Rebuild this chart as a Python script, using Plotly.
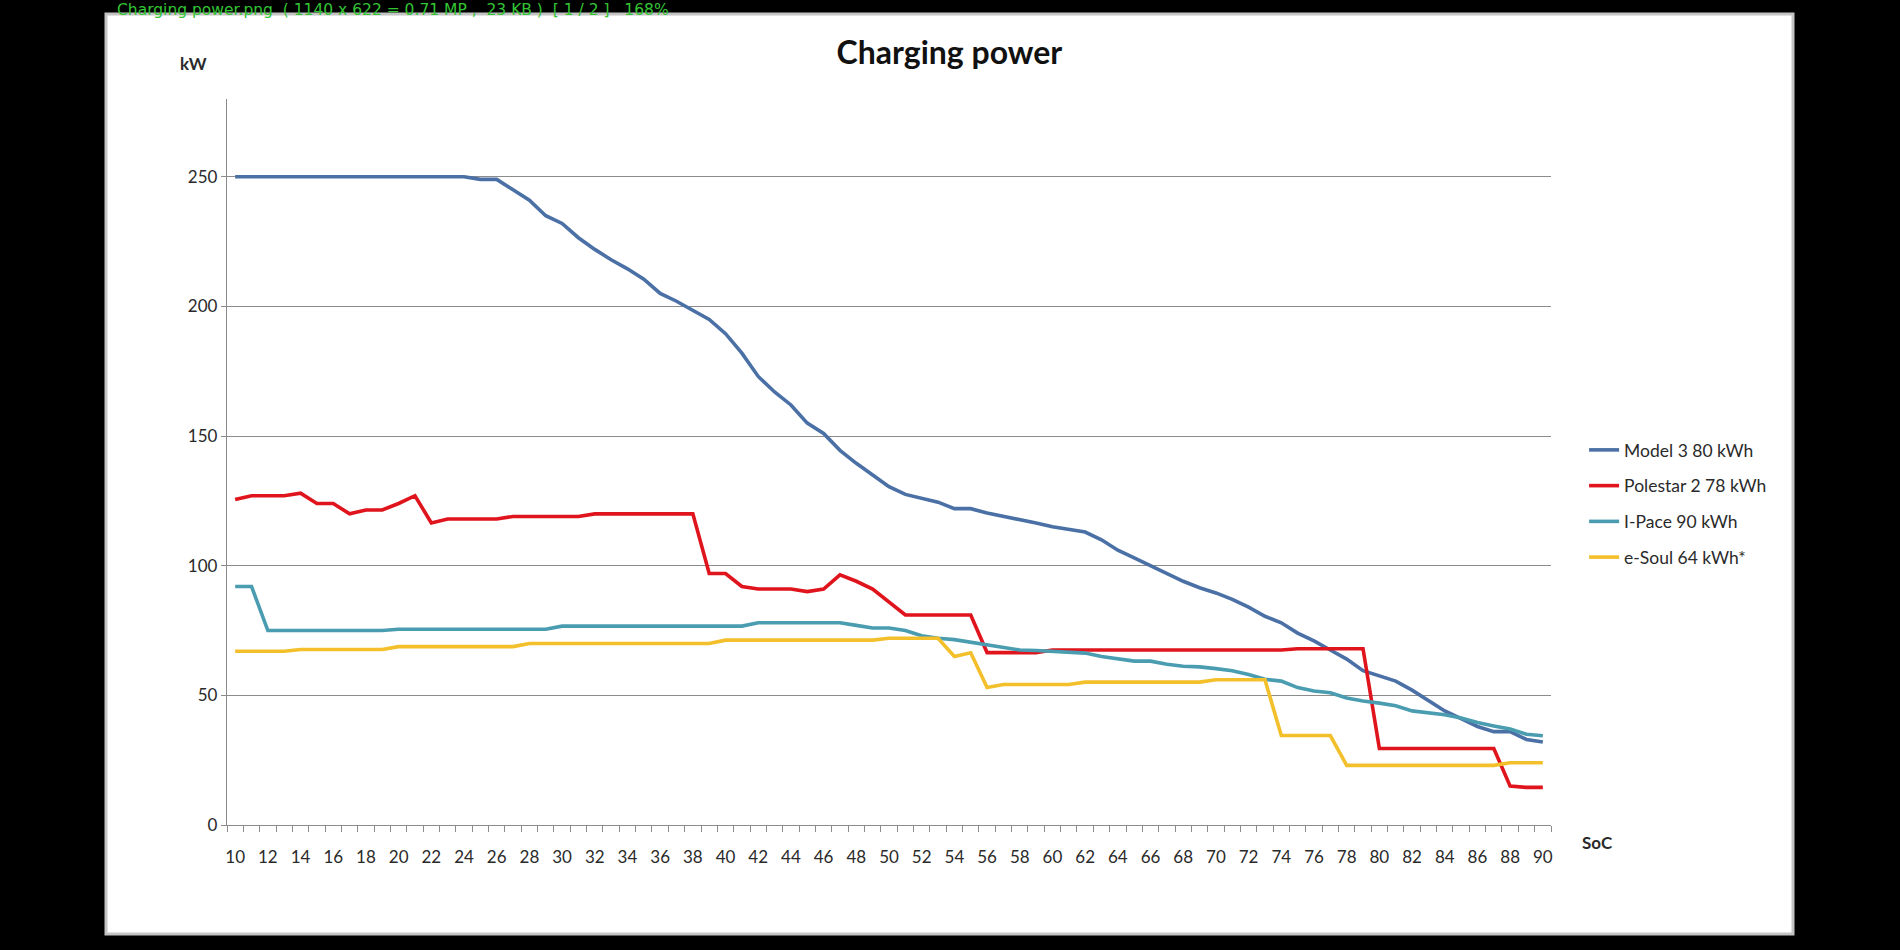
import plotly.graph_objects as go

SOC = list(range(10, 91))
TICK_LABELS = [str(v) for v in range(10, 91, 2)]

MODEL3 = [250, 250, 250, 250, 250, 250, 250, 250, 250, 250,
          250, 250, 250, 250, 250, 249, 249, 245, 241, 235,
          232, 226.5, 222, 218, 214.5, 210.5, 205, 202, 198.5, 195,
          189.5, 182, 173, 167, 162, 155, 151, 144.5, 139.5, 135,
          130.5, 127.5, 126, 124.5, 122, 122, 120.3, 119, 118, 116.5,
          115, 114, 113, 110, 106, 103, 100, 97, 94, 91.5,
          89.5, 87, 84, 80.5, 78, 74, 71, 67.5, 64, 59.5,
          57.5, 55.5, 52, 48, 44, 41, 38, 36, 36, 33, 32]

POLESTAR = [125.5, 127, 127, 127, 128, 124, 124, 120, 121.5, 121.5,
            124, 127, 116.5, 118, 118, 118, 118, 119, 119, 119,
            119, 119, 120, 120, 120, 120, 120, 120, 120, 97,
            97, 92, 91, 91, 91, 90, 91, 96.5, 94, 91,
            86, 81, 81, 81, 81, 81, 66.5, 66.5, 66.5, 66.5,
            67.5, 67.5, 67.5, 67.5, 67.5, 67.5, 67.5, 67.5, 67.5, 67.5,
            67.5, 67.5, 67.5, 67.5, 67.5, 68, 68, 68, 68, 68,
            29.5, 29.5, 29.5, 29.5, 29.5, 29.5, 29.5, 29.5, 15, 14.5, 14.5]

IPACE = [92, 92, 75, 75, 75, 75, 75, 75, 75, 75,
         75.5, 75.5, 75.5, 75.5, 75.5, 75.5, 75.5, 75.5, 75.5, 75.5,
         76.7, 76.7, 76.7, 76.7, 76.7, 76.7, 76.7, 76.7, 76.7, 76.7,
         76.7, 76.7, 78, 78, 78, 78, 78, 78, 77, 76,
         76, 75, 73, 72, 71.5, 70.5, 69.5, 68.5, 67.5, 67.3,
         67, 66.5, 66.3, 65, 64, 63.2, 63.2, 62, 61.2, 61,
         60.3, 59.5, 58, 56.2, 55.5, 53, 51.7, 51, 49, 47.8,
         47, 46, 44, 43.3, 42.5, 41.3, 39.5, 38.2, 37, 35, 34.4]

ESOUL = [67, 67, 67, 67, 67.7, 67.7, 67.7, 67.7, 67.7, 67.7,
         68.8, 68.8, 68.8, 68.8, 68.8, 68.8, 68.8, 68.8, 70, 70,
         70, 70, 70, 70, 70, 70, 70, 70, 70, 70,
         71.3, 71.3, 71.3, 71.3, 71.3, 71.3, 71.3, 71.3, 71.3, 71.3,
         72, 72, 72, 72, 65, 66.4, 53, 54.2, 54.2, 54.2,
         54.2, 54.2, 55.1, 55.1, 55.1, 55.1, 55.1, 55.1, 55.1, 55.1,
         56, 56, 56, 56, 34.5, 34.5, 34.5, 34.5, 23, 23,
         23, 23, 23, 23, 23, 23, 23, 23, 24, 24, 24]

SERIES = [
    ("Model 3 80 kWh", MODEL3, "#4a70a6"),
    ("Polestar 2 78 kWh", POLESTAR, "#e0141c"),
    ("I-Pace 90 kWh", IPACE, "#4a9db0"),
    ("e-Soul 64 kWh*", ESOUL, "#f3c02c"),
]

FONT = "Lato, 'Open Sans', sans-serif"
AXIS_GRAY = "#8c8c8c"

fig = go.Figure()
for i, (name, vals, color) in enumerate(SERIES):
    fig.add_trace(go.Scatter(
        x=SOC, y=vals, name=name, mode="lines",
        line=dict(color=color, width=3.6),
        legendgroup=f"g{i}",
    ))

fig.update_layout(
    width=1900, height=950,
    margin=dict(l=227, r=349, t=99, b=125),
    paper_bgcolor="black",
    plot_bgcolor="white",
    font=dict(family=FONT, size=17, color="#2a2a2a"),
    title=dict(text="<b>Charging power</b>", x=0.4997, xref="container",
               y=1 - 53 / 950, yref="container", xanchor="center", yanchor="middle",
               font=dict(family=FONT, size=32, color="#111111")),
    showlegend=True,
    legend=dict(x=1.025, xref="paper", y=(825 - 432) / 726, yanchor="top",
                bgcolor="rgba(0,0,0,0)", traceorder="grouped", tracegroupgap=10,
                font=dict(family=FONT, size=17.5, color="#2a2a2a"),
                itemwidth=30),
    xaxis=dict(
        range=[9.5, 90.5], tickmode="array", tickvals=list(range(10, 91, 2)),
        ticktext=TICK_LABELS, ticks="outside", ticklen=16, tickcolor="rgba(0,0,0,0)",
        showline=True, linecolor=AXIS_GRAY, linewidth=1.3, showgrid=False, zeroline=False,
        minor=dict(tickmode="linear", tick0=9.5, dtick=1, ticks="outside", ticklen=6,
                   tickcolor=AXIS_GRAY, tickwidth=1.2, showgrid=False),
        tickfont=dict(family=FONT, size=17, color="#2a2a2a"),
    ),
    yaxis=dict(
        range=[0, 280], tickmode="array", tickvals=[0, 50, 100, 150, 200, 250],
        ticks="outside", ticklen=5, tickcolor=AXIS_GRAY, tickwidth=1.2,
        showline=True, linecolor=AXIS_GRAY, linewidth=1.3,
        showgrid=True, gridcolor=AXIS_GRAY, gridwidth=1.2, zeroline=False,
        tickfont=dict(family=FONT, size=17, color="#2a2a2a"),
    ),
    shapes=[dict(
        type="rect", xref="paper", yref="paper", layer="below",
        x0=(106 - 227) / 1324, x1=(1793 - 227) / 1324,
        y0=(825 - 934) / 726, y1=(825 - 14) / 726,
        fillcolor="white", line=dict(color="#c4c4c4", width=3),
    )],
    annotations=[
        dict(text="<b>kW</b>", x=(193 - 227) / 1324, y=(825 - 64) / 726, xref="paper", yref="paper",
             showarrow=False, xanchor="center", yanchor="middle",
             font=dict(family=FONT, size=17, color="#2a2a2a")),
        dict(text="<b>SoC</b>", x=(1597 - 227) / 1324, y=(825 - 842) / 726, xref="paper", yref="paper",
             showarrow=False, xanchor="center", yanchor="middle",
             font=dict(family=FONT, size=17, color="#2a2a2a")),
        dict(text="Charging power.png  ( 1140 x 622 = 0.71 MP ,  23 KB )  [ 1 / 2 ]   168%",
             x=(115 - 227) / 1324, y=(825 - 10) / 726, xref="paper", yref="paper",
             showarrow=False, xanchor="left", yanchor="middle",
             font=dict(family="'DejaVu Sans', sans-serif", size=15.5, color="#33c433")),
    ],
)

fig.write_html("out.html")
